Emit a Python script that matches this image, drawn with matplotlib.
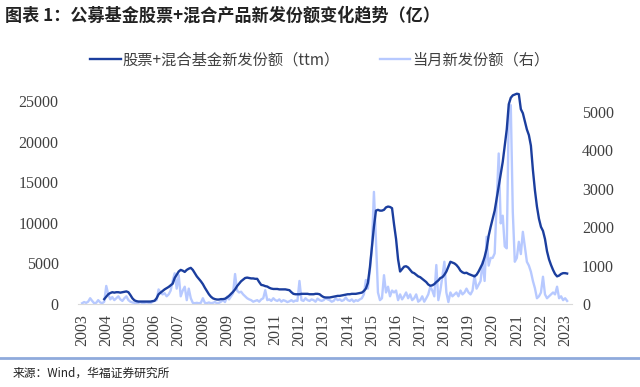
import numpy as np
import matplotlib.pyplot as plt

nan = np.nan

# 股票+混合基金新发份额（ttm），亿份，按月
ttm = {
    2003: [nan] * 11 + [600],
    2004: [900, 1200, 1350, 1450, 1400, 1450, 1450, 1400, 1450, 1500, 1550, 1450],
    2005: [1100, 700, 450, 350, 300, 300, 300, 300, 300, 300, 300, 350],
    2006: [400, 700, 1200, 1400, 1600, 1800, 1950, 2100, 2300, 2500, 3200, 3600],
    2007: [4000, 4200, 4100, 3950, 4200, 4350, 4450, 4200, 3800, 3400, 3100, 2800],
    2008: [2450, 2000, 1600, 1200, 900, 700, 600, 550, 550, 600, 600, 650],
    2009: [800, 1000, 1250, 1500, 1800, 2200, 2500, 2800, 3000, 3200, 3250, 3200],
    2010: [3150, 3150, 3100, 3100, 2700, 2350, 2300, 2200, 2150, 2000, 1900, 1850],
    2011: [1850, 1850, 1800, 1800, 1800, 1800, 1750, 1700, 1450, 1250, 1200, 1200],
    2012: [1200, 1250, 1250, 1250, 1250, 1200, 1200, 1200, 1250, 1250, 1200, 1000],
    2013: [850, 800, 800, 800, 850, 900, 950, 1000, 1000, 1050, 1100, 1150],
    2014: [1200, 1200, 1250, 1250, 1250, 1300, 1350, 1400, 1600, 1900, 2600, 4500],
    2015: [7000, 9500, 11500, 11600, 11500, 11500, 11600, 11900, 12000, 11950, 11800, 9800],
    2016: [8000, 5500, 4000, 4300, 4600, 4650, 4500, 4200, 3900, 3800, 3600, 3400],
    2017: [3300, 3100, 2900, 2700, 2400, 2250, 2300, 2450, 2700, 2900, 3200, 3300],
    2018: [3600, 4000, 4600, 5200, 5100, 5000, 4800, 4500, 4100, 3900, 3800, 3850],
    2019: [3700, 3600, 3500, 3400, 3600, 4000, 4500, 5000, 5800, 6800, 8400, 9500],
    2020: [10500, 11500, 13000, 14500, 16000, 17500, 19500, 21500, 24600, 25400, 25700, 25800],
    2021: [25900, 25850, 24000, 23500, 22500, 21500, 20800, 19500, 16500, 14000, 12000, 10500],
    2022: [9500, 9000, 8000, 6500, 5500, 4800, 4200, 3700, 3400, 3500, 3700, 3800],
    2023: [3800, 3750],
}

# 当月新发份额（右轴），亿份
monthly = {
    2003: [20, 50, 30, 60, 150, 80, 20, 30, 100, 40, 20, 60],
    2004: [470, 250, 120, 180, 100, 150, 200, 120, 80, 150, 200, 100],
    2005: [60, 40, 30, 20, 30, 50, 20, 30, 40, 30, 20, 60],
    2006: [80, 100, 380, 300, 250, 280, 200, 250, 350, 600, 800, 400],
    2007: [750, 200, 350, 450, 100, 400, 150, 30, 20, 30, 20, 30],
    2008: [150, 30, 20, 40, 20, 30, 50, 20, 30, 60, 100, 50],
    2009: [190, 120, 200, 280, 780, 350, 300, 320, 250, 200, 150, 120],
    2010: [100, 60, 80, 100, 60, 120, 150, 360, 100, 120, 80, 150],
    2011: [100, 80, 120, 60, 100, 80, 50, 70, 100, 60, 90, 80],
    2012: [600, 100, 80, 150, 100, 80, 120, 100, 60, 140, 100, 80],
    2013: [100, 150, 120, 100, 60, 80, 150, 100, 120, 80, 100, 170],
    2014: [100, 80, 120, 60, 100, 80, 120, 150, 250, 625, 400, 885],
    2015: [1500, 2920, 1670, 300, 100, 150, 750, 300, 450, 200, 350, 300],
    2016: [350, 100, 250, 120, 200, 300, 150, 250, 100, 150, 250, 60],
    2017: [100, 200, 60, 150, 250, 450, 350, 200, 1015, 100, 350, 710],
    2018: [1100, 300, 50, 300, 200, 250, 300, 200, 350, 250, 300, 400],
    2019: [300, 250, 350, 750, 400, 500, 600, 1100, 600, 1750, 1000, 1200],
    2020: [1200, 1320, 2660, 3920, 2100, 2300, 1500, 1450, 5010, 5180, 2400, 1100],
    2021: [1200, 1620, 1300, 1880, 1500, 1100, 1000, 840, 600, 410, 150, 200],
    2022: [300, 710, 250, 150, 200, 250, 300, 250, 450, 150, 200, 100],
    2023: [150, 80],
}

years = list(range(2003, 2024))
year_labels = [str(y) for y in years]

ttm_vals = np.concatenate([ttm[y] for y in years]).astype(float)
mon_vals = np.concatenate([monthly[y] for y in years]).astype(float)
months = np.arange(len(ttm_vals))

dark = "#1B3E9E"
light = "#B7C9FF"
cjk = ["Noto Sans CJK SC", "DejaVu Sans"]
serif = "Liberation Serif"

fig = plt.figure(figsize=(6.4, 3.87), dpi=100)
ax = fig.add_axes([0.122, 0.2145, 0.772, 0.558])
ax2 = ax.twinx()

l2, = ax2.plot(months, mon_vals, color=light, lw=1.7, label="当月新发份额（右）")
l1, = ax.plot(months, ttm_vals, color=dark, lw=1.7, label="股票+混合基金新发份额（ttm）")
ax.set_zorder(ax2.get_zorder() + 1)
ax.patch.set_visible(False)

ax.set_xlim(-2, 243.5)
ax.set_ylim(0, 26600)
ax2.set_ylim(0, 5625)
ax.set_yticks([0, 5000, 10000, 15000, 20000, 25000])
ax2.set_yticks([0, 1000, 2000, 3000, 4000, 5000])
ax.set_xticks(np.arange(0, 241, 12))
ax.set_xticklabels(year_labels, rotation=90)

for a in (ax, ax2):
    for s in a.spines.values():
        s.set_visible(False)
    a.tick_params(length=0, labelsize=11.5, labelcolor="#404040")
ax.spines["bottom"].set_visible(True)
ax.spines["bottom"].set_color("#D9D9D9")
ax.tick_params(axis="y", pad=14)
ax.tick_params(axis="x", pad=7)
ax2.tick_params(axis="y", pad=7)
for lab in ax.get_xticklabels() + ax.get_yticklabels() + ax2.get_yticklabels():
    lab.set_fontfamily(serif)

fig.legend(handles=[l1, l2], loc="center", bbox_to_anchor=(0.5, 1 - 60 / 387), ncol=2,
           frameon=False, handlelength=2.0, handletextpad=0.15, columnspacing=2.6,
           prop={"family": cjk, "size": 11}, labelcolor="#404040")

fig.text(0.008, 1 - 15 / 387, "图表 1：公募基金股票+混合产品新发份额变化趋势（亿）",
         fontfamily=cjk, fontweight="bold", fontsize=12.3, va="center", color="#222222")
fig.add_artist(plt.Line2D([0, 1], [1 - 358 / 387] * 2, color="#8FAADC", lw=2))
fig.text(0.019, 1 - 373 / 387, "来源：Wind，华福证券研究所", fontfamily=cjk,
         fontsize=8.5, va="center", color="#222222")

fig.savefig("out.png", dpi=100)
